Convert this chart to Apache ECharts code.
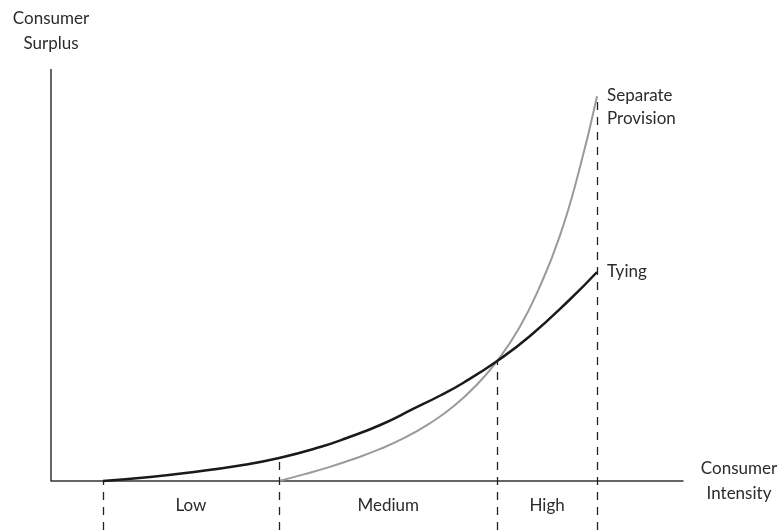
<!DOCTYPE html>
<html>
<head>
<meta charset="utf-8">
<script src="https://cdn.jsdelivr.net/npm/echarts@6/dist/echarts.min.js"></script>
<style>html,body{margin:0;padding:0;background:#fff}#c{width:782px;height:530px}</style>
</head>
<body>
<div id="c"></div>
<script>
// Consumer intensity (x, 0-10) vs consumer surplus (y, 0-100)
var tyingX = [0.82, 1.57, 2.20, 2.99, 3.61, 4.26, 4.68, 5.21, 5.73, 6.16, 6.52, 7.06, 7.58, 8.21, 8.64];
var tyingY = [0, 0.97, 2.06, 3.76, 5.58, 8.25, 10.44, 13.59, 17.48, 20.75, 23.79, 29.13, 35.19, 44.05, 50.73];
var sepX = [3.61, 4.00, 4.40, 4.79, 5.19, 5.59, 5.98, 6.38, 6.77, 7.06, 7.41, 7.72, 8.04, 8.35, 8.64];
var sepY = [0, 1.60, 3.36, 5.35, 7.66, 10.44, 13.87, 18.24, 23.91, 29.13, 37.2, 46.7, 59.0, 75.0, 93.4];
var boundaries = [0.82, 3.61, 7.06, 8.64];
var boundaryTops = [0, 5.58, 29.13, 93.4];
var regionNames = ['Low', 'Medium', 'High'];
var seriesNames = ['Tying', 'Separate\nProvision'];

var Y_MIN = -11.9, Y_MAX = 100, X_MIN = 0, X_MAX = 10;
var FONT = 'Lato';
var TXT = '#2b2b2b';

function zip(xs, ys) { return xs.map(function (x, i) { return [x, ys[i]]; }); }

var dashLines = boundaries.map(function (b, i) {
  return [{ coord: [b, Y_MIN] }, { coord: [b, boundaryTops[i]] }];
});
var areas = regionNames.map(function (n, i) {
  return [{ name: n, coord: [boundaries[i], Y_MIN] }, { coord: [boundaries[i + 1], 0] }];
});

var chart = echarts.init(document.getElementById('c'), null, { renderer: 'canvas' });
chart.setOption({
  animation: false,
  grid: { left: 51, right: 99, top: 69, bottom: 0 },
  xAxis: {
    type: 'value', min: X_MIN, max: X_MAX,
    axisLine: { show: true, onZero: true, lineStyle: { color: '#333', width: 1.5 } },
    axisTick: { show: false }, axisLabel: { show: false }, splitLine: { show: false },
    name: 'Consumer\nIntensity', nameLocation: 'end', nameGap: 56,
    nameTextStyle: { fontFamily: FONT, fontSize: 17, color: TXT, align: 'center', verticalAlign: 'middle', lineHeight: 25 }
  },
  yAxis: {
    type: 'value', min: Y_MIN, max: Y_MAX,
    axisLine: { show: false }, axisTick: { show: false }, axisLabel: { show: false }, splitLine: { show: false },
    name: 'Consumer\nSurplus', nameLocation: 'end', nameGap: 13,
    nameTextStyle: { fontFamily: FONT, fontSize: 17, color: TXT, align: 'center', verticalAlign: 'bottom', lineHeight: 25 }
  },
  series: [
    {
      name: seriesNames[1], type: 'line', data: zip(sepX, sepY), smooth: true,
      showSymbol: false, symbol: 'none',
      lineStyle: { color: '#9a9a9a', width: 2 },
      endLabel: { show: true, formatter: function (p) { return p.seriesName; }, distance: 10, offset: [0, 11],
        fontFamily: FONT, fontSize: 17, color: TXT, lineHeight: 23, align: 'left' },
      markLine: {
        silent: true, symbol: 'none', label: { show: false },
        lineStyle: { color: '#333', width: 1.5, type: 'solid' },
        data: [[{ coord: [X_MIN, 0] }, { coord: [X_MIN, Y_MAX] }]]
      },
      z: 3
    },
    {
      name: seriesNames[0], type: 'line', data: zip(tyingX, tyingY), smooth: true,
      showSymbol: false, symbol: 'none',
      lineStyle: { color: '#1a1a1a', width: 2.5 },
      endLabel: { show: true, formatter: function (p) { return p.seriesName; }, distance: 10,
        fontFamily: FONT, fontSize: 17, color: TXT, align: 'left' },
      markLine: {
        silent: true, symbol: 'none', label: { show: false },
        lineStyle: { color: '#222', width: 1.3, type: [8, 7] },
        data: dashLines
      },
      markArea: {
        silent: true, itemStyle: { color: 'rgba(0,0,0,0)' },
        label: { show: true, position: 'inside', fontFamily: FONT, fontSize: 17, color: TXT },
        data: areas
      },
      z: 4
    }
  ]
});
</script>
</body>
</html>
